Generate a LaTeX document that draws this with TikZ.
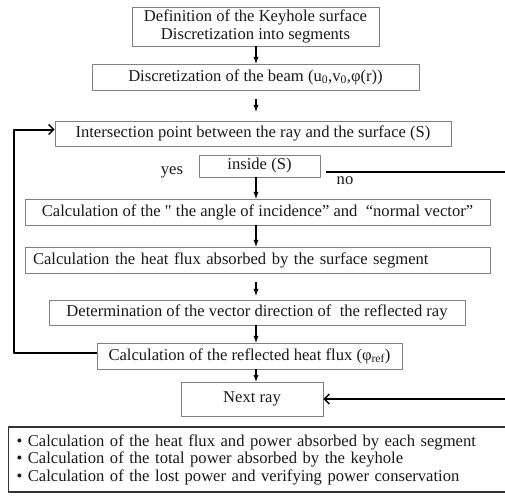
\documentclass[tikz,border=0pt]{standalone}
\usepackage{fontspec}
\setmainfont{Liberation Serif}[Ligatures=TeXOff]
\usetikzlibrary{arrows.meta, calc}
\tikzset{>=latex}
\tikzset{
    stage/.style={draw=black!50, line width=0.7pt, inner sep=0pt, text=black!90,
        font=\fontsize{16.6}{17.5}\selectfont},
    flow/.style={->, line width=1.3pt},
    loopback/.style={line width=2pt, -{Straight Barb[length=5pt, width=10pt, line width=1.5pt]}},
    tag/.style={text=black!90, font=\fontsize{16.6}{17.5}\selectfont}
}

\begin{document}
\begin{tikzpicture}[x=1pt, y=-1pt, line join=round]
    \useasboundingbox (0,0) rectangle (505,495);
    % main column of stages
    \node[stage, minimum width=247pt, minimum height=39pt, align=center] (def) at (255.5,26.5)
        {Definition of the Keyhole surface\\Discretization into segments};
    \node[stage, minimum width=327pt, minimum height=26pt] (beam) at (255.5,77)
        {Discretization of the beam (u\textsubscript{0},v\textsubscript{0},φ(r))};
    \node[stage, minimum width=396pt, minimum height=25pt] (isect) at (253,133.5)
        {Intersection point between the ray and the surface (S)};
    \node[stage, minimum width=121pt, minimum height=22pt] (inside) at (259.5,166) {inside (S)};
    \node[stage, minimum width=465pt, minimum height=26pt] (angle) at (257.5,212)
        {Calculation of the " the angle of incidence” and\ \ “normal vector”};
    \node[stage, minimum width=465pt, minimum height=26pt, text width=449pt, align=left] (heat) at (257.5,260)
        {Calculation the heat flux absorbed by the surface segment};
    \node[stage, minimum width=416pt, minimum height=25pt] (det) at (257,312.5)
        {Determination of the vector direction of\ \ the reflected ray};
    \node[stage, minimum width=305pt, minimum height=26pt] (refl) at (249.5,356)
        {Calculation of the reflected heat flux (φ\textsubscript{ref})};
    \node[stage, minimum width=142pt, minimum height=34pt] (next) at (252,399) {Next ray};
    \node[stage, draw=black!80, line width=1.1pt, anchor=west, minimum height=65pt, text width=490pt,
        inner xsep=8pt, align=left] (summary) at (8,459.5)
        {\textbullet\ Calculation of the heat flux and power absorbed by each segment\\
         \textbullet\ Calculation of the total power absorbed by the keyhole\\
         \textbullet\ Calculation of the lost power and verifying power conservation};
    \node[tag] (yes) at (172,172) {yes};
    \node[tag] (no) at (345,181) {no};

    % arrows down the column
    \coordinate (col) at (256,0);
    \foreach \a/\b/\s/\e in {def/beam/0/0, beam/isect/9/9, inside/angle/0/0,
                             angle/heat/0/0, heat/det/9/4, det/refl/0/0, refl/next/0/0}{
        \draw[flow, shorten <=\s pt, shorten >=\e pt] (\a.south -| col) -- (\b.north -| col);
    }

    % back to the next intersection, and the "no" branch
    \coordinate (loopx) at (14,0);
    \draw[loopback] ([yshift=3pt]refl.west) -- ([yshift=3pt]refl.west -| loopx)
        |- ([yshift=4pt]isect.west);
    \coordinate (nostart) at (326,172);
    \coordinate (noturn) at (520,172);
    \draw[loopback] (nostart) -- (noturn) |- (next.east);
\end{tikzpicture}
\end{document}
